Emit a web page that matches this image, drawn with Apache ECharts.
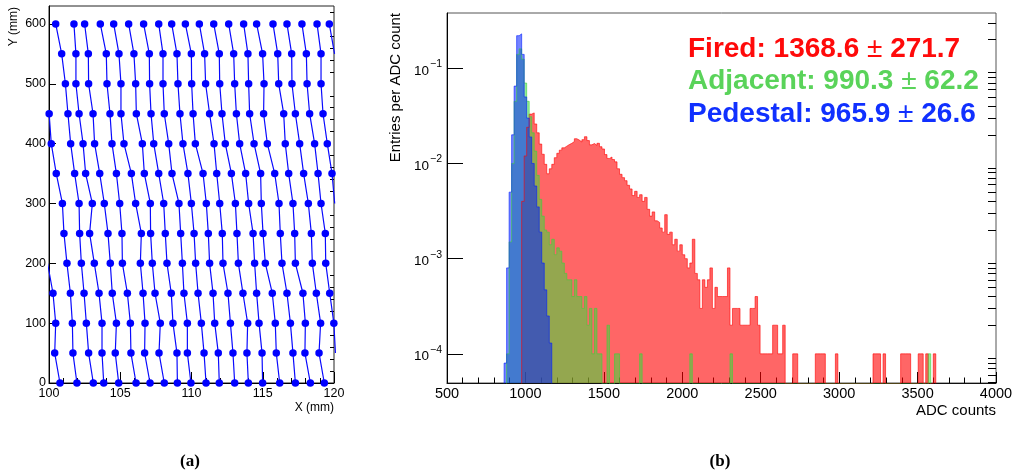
<!DOCTYPE html>
<html><head><meta charset="utf-8">
<script src="https://cdn.jsdelivr.net/npm/echarts@6/dist/echarts.min.js"></script>
<style>html,body{margin:0;padding:0;background:#fff}#c{width:1013px;height:476px}</style>
</head><body><div id="c"></div>
<script>
// ---------- Panel (a): hit positions, rows at fixed Y (mm); X (mm) per column, null = none ----------
const rowY = [600, 550, 500, 450, 400, 350, 300, 250, 200, 150, 100, 50, 0];
const row600 = [null, null, 100.47, 101.75, 102.50, 103.60, 104.54, 105.59, 106.64, 107.70, 108.61, 109.57, 110.55, 111.56, 112.61, 113.66, 114.57, 115.72, 116.70, 117.75, 118.81, 119.67];
const row550 = [null, null, 100.89, 101.89, 102.76, 104.02, 104.91, 105.96, 107.04, 108.00, 108.98, 109.99, 110.92, 111.95, 112.96, 113.96, 114.99, 116.05, 117.03, 118.06, 119.09, 120.04];
const row500 = [null, null, 101.15, 101.89, 102.78, 104.07, 105.05, 106.08, 107.06, 108.00, 109.05, 110.01, 110.99, 111.98, 113.03, 114.01, 115.09, 116.12, 117.05, 118.11, 119.09, null];
const row450 = [null, 100.01, 101.33, 102.11, 103.09, 104.28, 105.05, 106.13, 107.16, 108.09, 109.19, 110.11, 111.27, 112.14, 113.15, 114.08, 115.06, 116.47, 117.29, 118.29, 119.23, null];
const row400 = [null, 100.16, 101.52, 102.39, 103.20, 104.42, 105.26, 106.55, 107.35, 108.40, 109.40, 110.27, 111.58, 112.37, 113.38, 114.39, 115.32, 116.58, 117.59, 118.64, 119.53, null];
const row350 = [null, 100.51, 101.80, 102.57, 103.56, 104.73, 105.78, 106.69, 107.70, 108.63, 109.75, 110.81, 111.77, 112.80, 113.80, 114.85, 115.84, 116.82, 117.87, 118.88, 119.86, null];
const row300 = [null, 100.94, 102.11, 103.04, 103.88, 104.96, 106.08, 107.11, 108.05, 109.12, 109.99, 111.04, 111.98, 113.08, 114.01, 114.90, 116.14, 117.12, 118.20, 119.09, 120.05, null];
const row250 = [null, 101.05, 102.15, 102.85, 104.14, 105.12, 106.48, 107.13, 108.16, 109.24, 110.18, 111.18, 112.16, 113.19, 114.32, 115.02, 116.23, 117.24, 118.41, 119.39, null, null];
const row200 = [99.90, 101.26, 102.27, 103.18, 104.30, 105.15, 106.41, 107.25, 108.28, 109.36, 110.29, 111.27, 112.21, 113.29, 114.43, 115.18, 116.35, 117.29, 118.48, 119.42, null, null];
const row150 = [100.28, 101.50, 102.46, 103.51, 104.44, 105.50, 106.60, 107.44, 108.58, 109.47, 110.46, 111.51, 112.56, 113.61, 114.57, 115.67, 116.70, 117.82, 118.76, 119.70, null, null];
const row100 = [100.47, 101.64, 102.62, 103.72, 104.73, 105.71, 106.74, 107.81, 108.70, 109.71, 110.69, 111.63, 112.73, 113.94, 114.74, 115.88, 116.94, 117.99, 119.06, 119.99, null, null];
const row50  = [100.40, 101.68, 102.78, 103.72, 104.65, 105.75, 106.71, 107.72, 108.98, 109.71, 110.88, 111.88, 112.91, 113.89, 114.95, 115.95, 117.12, 117.96, 118.95, 120.10, null, null];
const row0   = [100.77, 101.96, 103.11, 103.84, 104.89, 106.11, 107.09, 108.09, 109.01, 109.96, 111.02, 111.95, 113.03, 113.99, 114.99, 116.19, 117.29, 118.34, 119.32, null, null, null];
const rowsX = [row600, row550, row500, row450, row400, row350, row300, row250, row200, row150, row100, row50, row0];
const xTicksA = [100, 105, 110, 115, 120];
const yTicksA = [0, 100, 200, 300, 400, 500, 600];

// ---------- Panel (b): ADC histograms (entries per ADC count), bin width 16 ----------
const binWidth = 16;
const firedStart = 976;
const fired = [0.004, 0.012, 0.024, 0.033, 0.034, 0.026, 0.021, 0.016, 0.0125, 0.0098, 0.0078,
  0.0088, 0.0098, 0.0115, 0.0128, 0.0138, 0.0146, 0.0152, 0.0158, 0.0163, 0.0170,
  0.0182, 0.0176, 0.0168, 0.0178, 0.0191, 0.0174, 0.0157, 0.0162, 0.0155, 0.0163,
  0.0150, 0.0142, 0.0124, 0.0113, 0.0117, 0.0110, 0.0104, 0.0088, 0.0077, 0.0071,
  0.0066, 0.0059, 0.0054, 0.0046, 0.0051, 0.0044, 0.0047, 0.0040, 0.0044, 0.0033,
  0.0028, 0.0031, 0.0025, 0.0024, 0.0021, 0.0019, 0.0029, 0.0018, 0.0019, 0.0014,
  0.0016, 0.0012, 0.0014, 0.0011, 0.0010, 0.0008, 0.0009, 0.0016, 0.0007, 0.0006,
  0.0003, 0.0006, 0.0005, 0.0006, 0.0008, 0.0003, 0.0005, 0.0004, 0.0004, 0.0004,
  0.0004, 0.0008, 0.0002, 0.0003, 0.0003, 0.0003, 0.0002, 0.0002, 0.0002, 0.0002,
  0.0003, 0.0003, 0.0004, 0.0002, 0.0001, 0.0001, 0.0001, 0.0001, 0.0001, 0.0002,
  0.0002, 0.0001, 0.0001, 0.0002, 0, 0, 0, 0.0001, 0.0001];
const firedTail = [[2848, 0.0001], [2864, 0.0001], [2880, 0.0001], [2896, 0.0001], [2976, 0.0001],
  [3216, 0.0001], [3232, 0.0001], [3248, 0.0001], [3280, 0.0001],
  [3392, 0.0001], [3408, 0.0001], [3424, 0.0001], [3440, 0.0001],
  [3504, 0.0001], [3520, 0.0001], [3552, 0.0001], [3600, 0.0001]];
const adjacentStart = 880;
const adjacent = [0.0001, 0.0015, 0.010, 0.045, 0.14, 0.16, 0.125, 0.070, 0.045, 0.031,
  0.021, 0.0135, 0.0075, 0.0042, 0.0028, 0.0020, 0.0019, 0.0014, 0.0016, 0.0011,
  0.0013, 0.0012, 0.0009, 0.0007, 0.0006, 0.0006, 0.0004, 0.0006, 0.0004, 0.0004,
  0.0003, 0.0004, 0.0002, 0.0003, 0.0001, 0.0003, 0.0001, 0.0001, 0, 0,
  0.0002, 0, 0, 0.0001, 0.0001];
const adjacentTail = [[1728, 0.0001], [2048, 0.0001], [2304, 0.0001], [3568, 0.0001]];
const pedestalStart = 864;
const pedestal = [0.00008, 0.0008, 0.005, 0.02, 0.065, 0.22, 0.23, 0.14, 0.05, 0.030,
  0.019, 0.010, 0.0058, 0.0035, 0.0019, 0.0009, 0.00047, 0.00025, 0.00013];
const xTicksB = [500, 1000, 1500, 2000, 2500, 3000, 3500, 4000];
const yDecadesB = [-4, -3, -2, -1];
const yMinB = 4.94e-5, yMaxB = 0.381;

const legendLines = [
  {name: 'Fired', mean: '1368.6', rms: '271.7', color: '#ff0a0a'},
  {name: 'Adjacent', mean: '990.3', rms: '62.2', color: '#5ad35a'},
  {name: 'Pedestal', mean: '965.9', rms: '26.6', color: '#1030ff'}
];

// ---------- build ----------
const FONT = '"Liberation Sans", Arial, Helvetica, sans-serif';
const FLOOR = -7;
const lgMin = Math.log10(yMinB), lgMax = Math.log10(yMaxB);

function toBins(start, arr, tail) {
  const bins = arr.map((v, i) => [start + i * binWidth, v]);
  return bins.concat(tail || []);
}
function stepPoints(bins) {
  const pts = []; let prevEnd = null;
  bins.forEach(([s, v]) => {
    if (prevEnd === null || s > prevEnd + 1e-9) {
      if (prevEnd !== null) pts.push([prevEnd, FLOOR]);
      pts.push([s, FLOOR]);
    }
    pts.push([s, v > 0 ? Math.log10(v) : FLOOR]);
    prevEnd = s + binWidth;
  });
  pts.push([prevEnd, FLOOR]);
  return pts;
}

const series = [];
const nCols = row600.length;
for (let c = 0; c < nCols; c++) {
  const data = [];
  rowsX.forEach((row, r) => { if (row[c] != null) data.push([row[c], rowY[r]]); });
  series.push({
    type: 'line', xAxisIndex: 0, yAxisIndex: 0, data, clip: true,
    symbol: 'circle', symbolSize: 7.5, showSymbol: true,
    itemStyle: {color: '#0000ff'}, lineStyle: {color: '#0a0aff', width: 1.2},
    silent: true, emphasis: {disabled: true}, z: 2
  });
}
const histDefs = [
  {bins: toBins(firedStart, fired, firedTail), fill: 'rgba(255,0,0,0.6)', line: 'rgba(255,0,0,0.6)'},
  {bins: toBins(adjacentStart, adjacent, adjacentTail), fill: 'rgba(60,220,60,0.55)', line: 'rgba(60,210,60,0.6)'},
  {bins: toBins(pedestalStart, pedestal, []), fill: 'rgba(0,30,255,0.55)', line: 'rgba(0,30,255,0.6)'}
];
histDefs.forEach(h => {
  series.push({
    type: 'line', xAxisIndex: 1, yAxisIndex: 2, data: stepPoints(h.bins), step: 'end',
    symbol: 'none', showSymbol: false, clip: true,
    lineStyle: {color: h.line, width: 1},
    areaStyle: {color: h.fill, origin: 'start', opacity: 1},
    silent: true, emphasis: {disabled: true}, z: 2
  });
});

const minorYA = [];
for (let v = 20; v < 630; v += 20) if (v % 100 !== 0) minorYA.push(v);
const minorYB = [];
for (let n = -5; n <= -1; n++) for (let k = 2; k <= 9; k++) {
  const lv = Math.log10(k) + n;
  if (lv > lgMin && lv < lgMax) minorYB.push(lv);
}

const black = {color: '#000', width: 1};
const plain = v => String(v);
const option = {
  animation: false,
  backgroundColor: '#fff',
  grid: [
    {left: 49, top: 6, width: 285, height: 377, show: true, borderColor: '#222', borderWidth: 1, backgroundColor: 'transparent', outerBoundsMode: 'none'},
    {left: 447, top: 13, width: 549, height: 370, show: true, borderColor: '#555', borderWidth: 1, backgroundColor: 'transparent', outerBoundsMode: 'none'}
  ],
  xAxis: [
    {gridIndex: 0, type: 'value', min: 100, max: 120, interval: 5,
      axisLine: {show: true, onZero: false, lineStyle: black},
      axisTick: {show: true, inside: true, length: 11, lineStyle: black},
      minorTick: {show: true, splitNumber: 5, length: 5, lineStyle: black},
      axisLabel: {color: '#000', fontSize: 12.5, fontFamily: FONT, margin: 4, customValues: xTicksA, formatter: plain},
      splitLine: {show: false}, minorSplitLine: {show: false}},
    {gridIndex: 1, type: 'value', min: 500, max: 4000, interval: 500,
      axisLine: {show: true, onZero: false, lineStyle: {color: '#111', width: 1}},
      axisTick: {show: true, inside: true, length: 11, lineStyle: black},
      minorTick: {show: true, splitNumber: 5, length: 5.5, lineStyle: black},
      axisLabel: {color: '#000', fontSize: 14.5, fontFamily: FONT, margin: 3, customValues: xTicksB, formatter: plain},
      splitLine: {show: false}, minorSplitLine: {show: false}}
  ],
  yAxis: [
    {gridIndex: 0, type: 'value', min: 0, max: 630,
      axisLine: {show: true, onZero: false, lineStyle: black},
      axisTick: {show: true, inside: true, length: 7, lineStyle: black, customValues: yTicksA},
      axisLabel: {color: '#000', fontSize: 12.5, fontFamily: FONT, margin: 3, customValues: yTicksA, formatter: plain},
      splitLine: {show: false}},
    {gridIndex: 0, type: 'value', min: 0, max: 630,
      axisLine: {show: false},
      axisTick: {show: true, inside: true, length: 4, lineStyle: black, customValues: minorYA},
      axisLabel: {show: false}, splitLine: {show: false}},
    {gridIndex: 1, type: 'value', min: lgMin, max: lgMax,
      axisLine: {show: true, onZero: false, lineStyle: black},
      axisTick: {show: true, inside: true, length: 16, lineStyle: black, customValues: yDecadesB},
      axisLabel: {
        margin: 5, customValues: yDecadesB,
        formatter: v => '{b|10}{s|' + String(Math.round(v)).replace('-', '\u2212') + '}',
        rich: {
          b: {fontSize: 13.5, fontFamily: FONT, color: '#000', padding: [5, 0, 0, 0]},
          s: {fontSize: 10.5, fontFamily: FONT, color: '#000', verticalAlign: 'top', padding: [0, 0, 0, 1]}
        }
      },
      splitLine: {show: false}},
    {gridIndex: 1, type: 'value', min: lgMin, max: lgMax,
      axisLine: {show: false},
      axisTick: {show: true, inside: true, length: 8, lineStyle: black, customValues: minorYB},
      axisLabel: {show: false}, splitLine: {show: false}}
  ],
  series,
  graphic: [
    {type: 'text', x: 14, y: 7, rotation: Math.PI / 2, silent: true,
      style: {text: 'Y (mm)', fill: '#000', font: '12px ' + FONT, textAlign: 'right', textVerticalAlign: 'middle', verticalAlign: 'middle'}},
    {type: 'text', x: 334, y: 408, silent: true,
      style: {text: 'X (mm)', fill: '#000', font: '12px ' + FONT, textAlign: 'right', textVerticalAlign: 'middle', verticalAlign: 'middle'}},
    {type: 'text', x: 396, y: 13, rotation: Math.PI / 2, silent: true,
      style: {text: 'Entries per ADC count', fill: '#000', font: '15px ' + FONT, textAlign: 'right', textVerticalAlign: 'middle', verticalAlign: 'middle'}},
    {type: 'text', x: 996, y: 411, silent: true,
      style: {text: 'ADC counts', fill: '#000', font: '15px ' + FONT, textAlign: 'right', textVerticalAlign: 'middle', verticalAlign: 'middle'}},
    {type: 'text', x: 190, y: 462, silent: true,
      style: {text: '(a)', fill: '#000', font: 'bold 17px "Liberation Serif", "Times New Roman", serif', textAlign: 'center', textVerticalAlign: 'middle', verticalAlign: 'middle'}},
    {type: 'text', x: 720, y: 462, silent: true,
      style: {text: '(b)', fill: '#000', font: 'bold 17px "Liberation Serif", "Times New Roman", serif', textAlign: 'center', textVerticalAlign: 'middle', verticalAlign: 'middle'}}
  ].concat(legendLines.map((l, i) => ({
    type: 'text', x: 688, y: 49 + i * 32.5, silent: true, z: 10,
    style: {
      text: '{t|' + l.name + ': ' + l.mean + ' }{p|\u00b1}{t| ' + l.rms + '}',
      textAlign: 'left', textVerticalAlign: 'middle', verticalAlign: 'middle',
      rich: {
        t: {fill: l.color, fontSize: 28, fontWeight: 'bold', fontFamily: FONT},
        p: {fill: l.color, fontSize: 28, fontWeight: 'normal', fontFamily: FONT}
      }
    }
  })))
};
const chart = echarts.init(document.getElementById('c'));
chart.setOption(option);
</script>
</body></html>
